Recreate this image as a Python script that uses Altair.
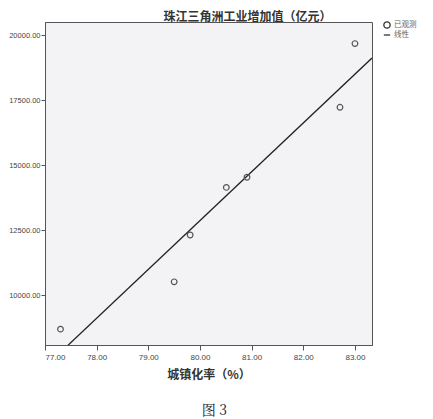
import altair as alt
import pandas as pd

urban_rate = [77.30, 79.50, 79.81, 80.51, 80.91, 82.71, 83.00]
industry_value = [8690, 10510, 12310, 14140, 14530, 17220, 19670]
x_ticks = [77, 78, 79, 80, 81, 82, 83]
y_ticks = [10000, 12500, 15000, 17500, 20000]
legend_labels = ["已观测", "线性"]

df = pd.DataFrame({"x": urban_rate, "y": industry_value, "series": legend_labels[0]})

cjk = "Noto Sans CJK SC"
lat = "Liberation Sans"

xscale = alt.Scale(domain=[77, 83.33], nice=False, zero=False)
yscale = alt.Scale(domain=[8080, 20500], nice=False, zero=False)

xaxis = alt.Axis(values=x_ticks, format=".2f", title="城镇化率（%）", grid=False,
                 labelFont=lat, labelFontSize=8, labelColor="#444", tickColor="#555",
                 tickSize=5, labelPadding=3, domainColor="#555",
                 titleFont=cjk, titleFontSize=12, titleFontWeight="bold", titleColor="#333",
                 titlePadding=8)
yaxis = alt.Axis(values=y_ticks, format=".2f", title="珠江三角洲工业增加值（亿元）", grid=False,
                 labelFont=lat, labelFontSize=7.5, labelColor="#444", tickColor="#555",
                 tickSize=4, labelPadding=1, domainColor="#555",
                 titleFont=cjk, titleFontSize=12, titleFontWeight="bold", titleColor="#333",
                 titleAngle=0, titleX=202, titleY=-2, titleAlign="center", titleBaseline="alphabetic")

points = alt.Chart(df).mark_point(filled=False, size=32, strokeWidth=1.2, color="#555", opacity=1).encode(
    x=alt.X("x:Q", scale=xscale, axis=xaxis),
    y=alt.Y("y:Q", scale=yscale, axis=yaxis),
    shape=alt.Shape("series:N",
                    scale=alt.Scale(domain=legend_labels, range=["circle", "stroke"]),
                    legend=alt.Legend(title=None, orient="none", legendX=338, legendY=-1,
                                      labelFont=cjk, labelFontSize=7.5, labelColor="#666",
                                      symbolSize=40, symbolStrokeColor="#333", symbolStrokeWidth=1.3,
                                      rowPadding=0, labelOffset=3)),
)

line = alt.Chart(df).transform_regression("x", "y", extent=[77, 83.33]).mark_line(
    color="#222", strokeWidth=1.3, clip=True
).encode(
    x=alt.X("x:Q", scale=xscale),
    y=alt.Y("y:Q", scale=yscale),
)

chart = alt.layer(line, points).properties(
    width=327, height=323,
    autosize=alt.AutoSizeParams(type="none"),
    padding={"left": 37, "top": 14, "right": 53, "bottom": 73},
    background="white",
    title=alt.TitleParams("图 3", orient="bottom", anchor="start", dx=193, offset=24,
                          font="Noto Serif CJK SC", fontSize=14, fontWeight="normal", color="#222"),
).configure_view(stroke="#555", strokeWidth=1, fill="#f3f2f5")

chart.save("out.html", embed_options={"renderer": "svg", "actions": False})
